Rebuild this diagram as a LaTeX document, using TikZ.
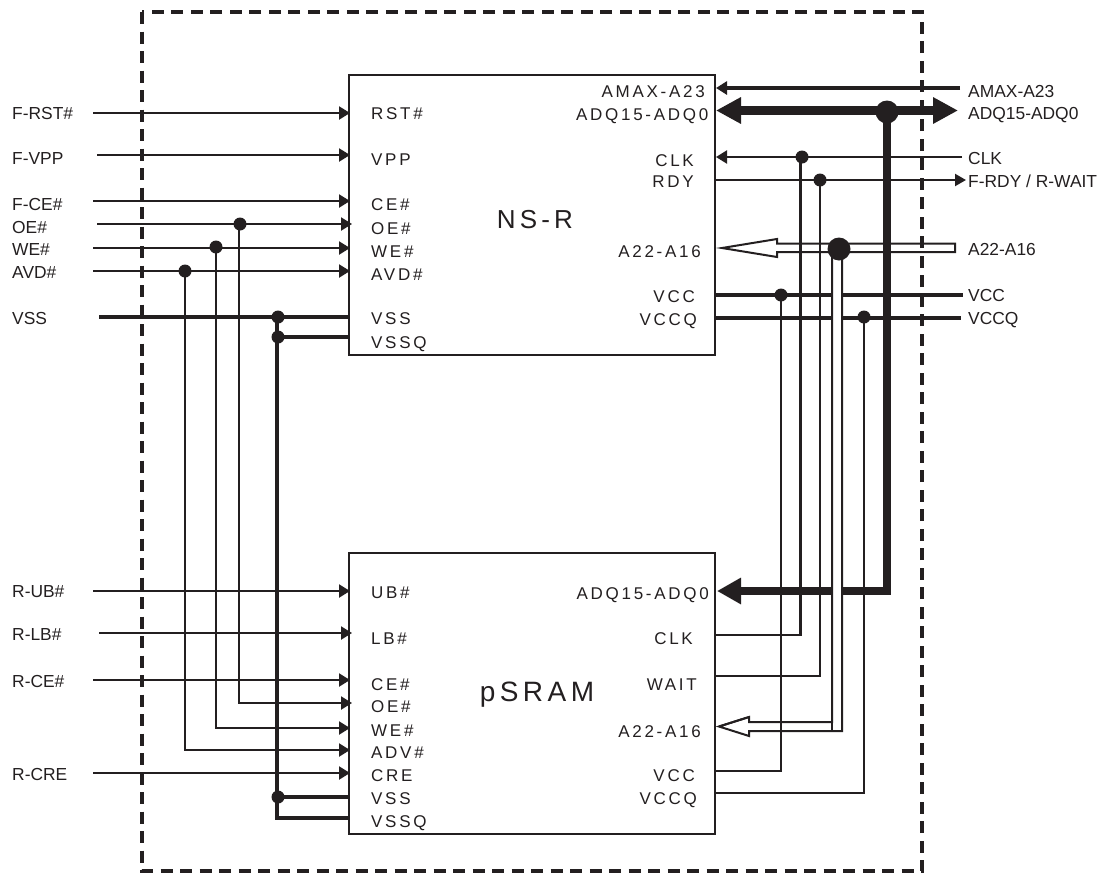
\documentclass[tikz,border=0pt]{standalone}
\usepackage{fontspec}
\setmainfont{Liberation Sans}
\newfontfamily\spacedfont[LetterSpace=16]{Liberation Sans}
\usetikzlibrary{arrows.meta}
\definecolor{ink}{HTML}{231F20}
\tikzset{
  chip/.style={draw=ink,line width=2pt,fill=white,minimum width=366pt,inner sep=0pt},
  frameline/.style={draw=ink,line width=3.5pt,dash pattern=on 12pt off 7.5pt},
  sig/.style={draw=ink,line width=2.2pt},
  pwr/.style={draw=ink,line width=3.2pt},
  bus/.style={draw=ink,line width=8.5pt},
  hollow/.style={draw=ink,line width=2pt,line join=miter,miter limit=20},
  tipin/.style={-{Triangle[length=11pt,width=13pt,color=ink]}},
  dotS/.style={circle,fill=ink,minimum size=13pt,inner sep=0pt},
  dotL/.style={circle,fill=ink,minimum size=23pt,inner sep=0pt},
  outer/.style={text=ink,inner sep=0pt,text height=12.5pt,text depth=0pt,font=\fontsize{17.4}{20}\selectfont},
  pinlabel/.style={text=ink,inner sep=0pt,text height=12.3pt,text depth=0pt,font=\fontsize{17}{20}\spacedfont},
  chiptitle/.style={text=ink,inner sep=0pt,font=\fontsize{28}{32}\spacedfont},
}
\begin{document}
\begin{tikzpicture}[x=1pt,y=-1pt]
\useasboundingbox (0,0) rectangle (1112,873);
% frame and chips
\draw[frameline] (142,12) rectangle (922,871);
\node[chip,minimum height=280pt] (nsr) at (532,215) {};
\node[chip,minimum height=281pt] (psram) at (532,693.5) {};
\node[chiptitle,font=\fontsize{26}{30}\spacedfont] (nsrT) at (535,220) {NS-R};
\node[chiptitle] (psramT) at (537,695) {pSRAM};

% outer left labels
\foreach \n/\t/\y in {lfrst/F-RST\#/113,lfvpp/F-VPP/158,lfce/F-CE\#/204,loe/OE\#/227,lwe/WE\#/249,lavd/AVD\#/272,lvss/VSS/318,
  lrub/R-UB\#/591,lrlb/R-LB\#/634,lrce/R-CE\#/681,lrcre/R-CRE/774}
  \node[outer,anchor=west] (\n) at (12,\y) {\t};
% outer right labels
\foreach \n/\t/\y in {ramax/AMAX-A23/91,radq/ADQ15-ADQ0/113,rclk/CLK/158,rrdy/{F-RDY / R-WAIT}/181,ra/A22-A16/249,rvcc/VCC/295,rvccq/VCCQ/318}
  \node[outer,anchor=west] (\n) at (968,\y) {\t};
% pins, upper and lower chip
\foreach \n/\t/\y in {prst/RST\#/113,pvpp/VPP/159,pce/CE\#/204,poe/OE\#/228,pwe/WE\#/251,pavd/AVD\#/274,pvss/VSS/318,pvssq/VSSQ/342,
  qub/UB\#/592,qlb/LB\#/638,qce/CE\#/684,qoe/OE\#/706,qwe/WE\#/730,qadv/ADV\#/752,qcre/CRE/775,qvss/VSS/798,qvssq/VSSQ/821}
  \node[pinlabel,anchor=west] (\n) at (371,\y) {\t};
\foreach \n/\t/\x/\y in {pamax/AMAX-A23/705/91,padq/ADQ15-ADQ0/708.5/114,pclk/CLK/694/160,prdy/RDY/694/181,pa/A22-A16/701/251,pvcc/VCC/695/296,pvccq/VCCQ/697/319,
  qadq/ADQ15-ADQ0/709/593,qclk/CLK/693/638,qwait/WAIT/697/684,qa/A22-A16/701/731,qvcc/VCC/695/775,qvccq/VCCQ/697/798}
  \node[pinlabel,anchor=east] (\n) at (\x,\y) {\t};

% junctions
\foreach \n/\x/\y in {jclk/802/157,jrdy/820/180,jvcc/781/295,jvccq/864/317,joe/240/224,jwe/216/247,javd/185/271,jvss/278/317,jvssq/278/337,jqvss/278/797}
  \coordinate (\n) at (\x,\y);
\coordinate (jadq) at (887,112);
\coordinate (ja) at (839,249);

% left inputs
\foreach \a/\y/\tip in {93/113/350,97/155/350,93/201/350,97/224/352,93/248/350,93/271/350,
  93/591/350,99/633/352,93/680/350,93/773/350}
  \draw[sig,tipin] (\a,\y) -- (\tip,\y);
% vertical control tees
\draw[sig,tipin] (joe) ++(-1,0) -- (239,703) -- (352,703);
\draw[sig,tipin] (jwe) -- (216,728) -- (350,728);
\draw[sig,tipin] (javd) -- (185,750) -- (350,750);
% ground
\draw[pwr] (99,317) -- (349,317);
\draw[pwr] (jvssq) -- (349,337);
\draw[pwr] (277,317) -- (277,818) -- (349,818);
\draw[pwr] (jqvss) -- (349,797);

% right side: address, clock
\draw[pwr,tipin] (960,88) -- (716,88);
\draw[sig,tipin] (962,157) -- (716,157);
\draw[sig] (jclk) ++(-1.5,0) -- (800.5,635) -- (716,635);
\draw[sig,-{Triangle[length=11pt,width=12pt,color=ink]}] (715,180) -- (966,180);
\draw[sig] (jrdy) -- (820,676) -- (716,676);
% power
\draw[pwr] (716,295) -- (963,295);
\draw[pwr] (716,318) -- (961,318);
\draw[sig] (jvcc) -- (781,771) -- (716,771);
\draw[sig] (jvccq) -- (864,793) -- (716,793);
% lower data bus
\draw[bus,line join=miter,-{Triangle[length=24pt,width=25pt,color=ink]}] (887,112) -- (887,591) -- (717,591);
% upper data bus
\draw[bus,{Triangle[length=25pt,width=25pt,color=ink]}-{Triangle[length=25pt,width=25pt,color=ink]}] (716,110.5) -- (958,110.5);
% address bus
\fill[white] (832,249) rectangle (842,731);
\draw[hollow] (722,248) -- (777,239) -- (777,243.5) -- (955,243.5) -- (955,252) -- (777,252) -- (777,257) -- cycle;
\draw[hollow] (719,726.5) -- (749,717) -- (749,722) -- (832,722) -- (832,249);
\draw[hollow] (842,249) -- (842,731) -- (749,731) -- (749,736) -- (719,726.5) -- (749,717);
\draw[hollow] (832,722) -- (832,731);

% dots
\foreach \n in {jclk,jrdy,jvcc,jvccq,joe,jwe,javd,jvss,jvssq,jqvss}
  \node[dotS] at (\n) {};
\node[dotL] at (jadq) {};
\node[dotL] at (ja) {};
\end{tikzpicture}
\end{document}
